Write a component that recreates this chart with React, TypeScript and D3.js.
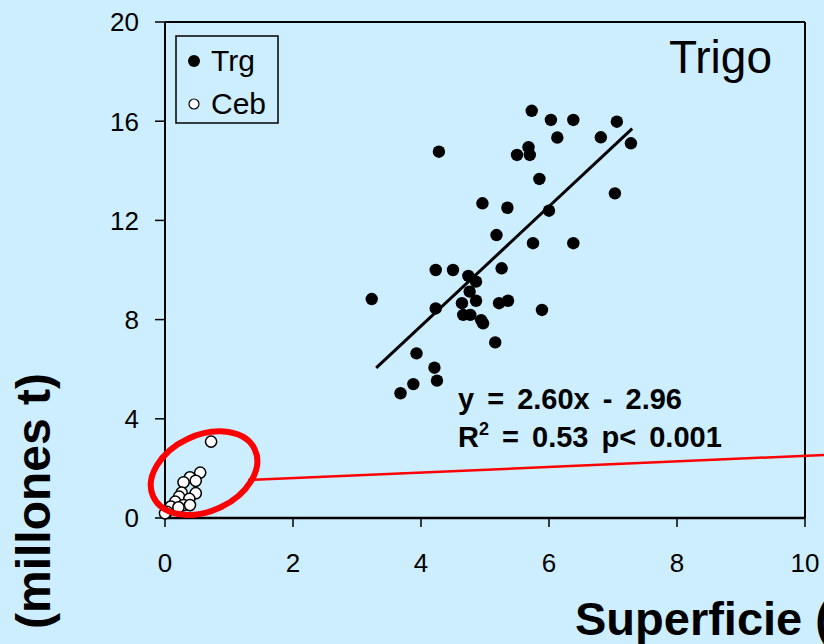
import * as d3 from 'd3';

// Trigo (wheat) area vs production
const trgX = [5.73, 6.03, 6.38, 7.06, 6.13, 6.81, 7.28, 4.28, 5.68, 5.50, 5.70, 5.85, 7.03, 4.96,
  5.35, 6.00, 5.18, 5.75, 6.38, 4.23, 4.50, 5.26, 4.74, 4.86, 4.76, 4.86, 3.23, 4.64, 5.22, 5.36,
  4.23, 5.89, 4.66, 4.77, 4.94, 4.97, 5.16, 3.93, 4.21, 4.25, 3.88, 3.68];
const trgY = [16.42, 16.05, 16.05, 15.98, 15.34, 15.35, 15.11, 14.77, 14.95, 14.64, 14.64, 13.67, 13.09, 12.69,
  12.51, 12.39, 11.41, 11.08, 11.08, 10.0, 10.0, 10.07, 9.76, 9.53, 9.13, 8.76, 8.83, 8.66, 8.66, 8.76,
  8.45, 8.39, 8.19, 8.19, 7.98, 7.85, 7.08, 6.64, 6.06, 5.54, 5.40, 5.03];

// Cebada (barley)
const cebX = [0.72, 0.55, 0.39, 0.48, 0.29, 0.48, 0.26, 0.22, 0.38, 0.16, 0.29, 0.39, 0.09, 0.21, 0.03, 0.0];
const cebY = [3.08, 1.83, 1.64, 1.50, 1.44, 1.00, 1.02, 0.86, 0.77, 0.66, 0.52, 0.52, 0.46, 0.43, 0.25, 0.19];

// fitted line as drawn
const trendX = [3.3, 7.3];
const trendY = [6.05, 15.7];

const xTicks = [0, 2, 4, 6, 8, 10];
const yTicks = [0, 4, 8, 12, 16, 20];

const W = 824;
const H = 644;
const BG = '#cceeff';
const FONT = '"Liberation Sans", Arial, sans-serif';

export default function App() {
  const x = d3.scaleLinear().domain([0, 10]).range([165, 805]);
  const y = d3.scaleLinear().domain([0, 20]).range([518, 22]);

  const line = d3.line<number>()
    .x((_, i) => x(trendX[i]))
    .y((d) => y(d));

  // red highlight round the barley cluster
  const ecx = x(0.61);
  const ecy = y(1.81);

  return (
    <svg width={W} height={H} style={{ position: 'absolute', left: 0, top: 0 }} fontFamily={FONT}>
      <rect width={W} height={H} fill={BG} />

      {/* frame */}
      <line x1={x(0)} x2={x(10)} y1={y(20)} y2={y(20)} stroke="#000" strokeWidth={2} />
      <line x1={x(10)} x2={x(10)} y1={y(20)} y2={y(0)} stroke="#000" strokeWidth={2} />
      <line x1={x(0)} x2={x(0)} y1={y(20)} y2={y(0)} stroke="#000" strokeWidth={2} />
      <line x1={x(0)} x2={x(10)} y1={y(0)} y2={y(0)} stroke="#000" strokeWidth={2.5} />

      {/* y axis */}
      {yTicks.map((t) => (
        <g key={'y' + t}>
          <line x1={x(0) - 10} x2={x(0)} y1={y(t)} y2={y(t)} stroke="#000" strokeWidth={1.5} />
          <text x={139} y={y(t)} dy="0.36em" textAnchor="end" fontSize={26}>{t}</text>
        </g>
      ))}

      {/* x axis */}
      {xTicks.map((t) => (
        <g key={'x' + t}>
          <line x1={x(t)} x2={x(t)} y1={y(0)} y2={y(0) + 9} stroke="#000" strokeWidth={1.5} />
          <text x={x(t)} y={572} textAnchor="middle" fontSize={26}>{t}</text>
        </g>
      ))}

      {/* trend */}
      <path d={line(trendY) || ''} fill="none" stroke="#000" strokeWidth={3} />

      {trgX.map((v, i) => (
        <circle key={'t' + i} cx={x(v)} cy={y(trgY[i])} r={6.2} fill="#000" />
      ))}
      {cebX.map((v, i) => (
        <circle key={'c' + i} cx={x(v)} cy={y(cebY[i])} r={5.6} fill="#fff" stroke="#000" strokeWidth={1.5} />
      ))}

      {/* highlight */}
      <ellipse cx={ecx} cy={ecy} rx={56} ry={38} fill="none" stroke="#ff0000" strokeWidth={6}
        transform={`rotate(-25 ${ecx} ${ecy})`} />
      <line x1={x(1.3)} y1={y(1.53)} x2={W} y2={455} stroke="#ff0000" strokeWidth={2.5} />

      {/* legend */}
      <rect x={176} y={36} width={102} height={87} fill="none" stroke="#000" strokeWidth={1.5} />
      <circle cx={194} cy={61} r={6} fill="#000" />
      <text x={211} y={71} fontSize={30}>Trg</text>
      <circle cx={194} cy={104} r={5} fill="#fff" stroke="#000" strokeWidth={1.2} />
      <text x={211} y={114} fontSize={30}>Ceb</text>

      <text x={772} y={73} textAnchor="end" fontSize={46}>Trigo</text>

      <text x={458} y={409} fontSize={29} fontWeight="bold" wordSpacing={5}>y = 2.60x - 2.96</text>
      <text x={458} y={447} fontSize={29} fontWeight="bold" wordSpacing={5}>
        R<tspan fontSize={18} dy={-12}>2</tspan><tspan dy={12}> = 0.53 p&lt; 0.001</tspan>
      </text>

      {/* axis titles, cut by the frame as in the slide */}
      <text x={575} y={635} fontSize={47} fontWeight="bold">Superficie (</text>
      <text transform="translate(50,373) rotate(-90)" textAnchor="end" fontSize={48} fontWeight="bold">(millones t)</text>
    </svg>
  );
}
